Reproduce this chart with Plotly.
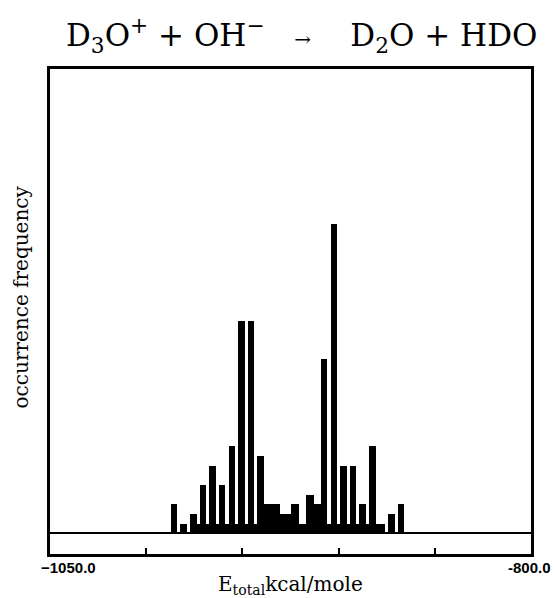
import plotly.graph_objects as go

# ---- data ----
# main histogram bars: bin centre (kcal/mole) and occurrence count
main_energy = [-985.5, -980.5, -975.5, -970.5, -965.5, -960.5, -955.5, -950.5, -945.5, -940.5,
               -907.5, -902.5, -897.5, -892.5, -887.5, -882.5, -877.5, -872.5, -867.5]
main_count = [3, 1, 2, 5, 7, 5, 9, 22, 22, 8,
              18, 32, 7, 7, 3, 9, 1, 2, 3]

# low, densely packed bars between / under the main bars
fill_energy = [-973.0, -968.0, -963.0, -958.0, -953.0, -948.0, -943.0,
               -936.7, -932.8, -929.5, -925.7, -922.7, -918.75, -914.85, -911.5,
               -905.0, -900.0, -895.0, -890.0, -885.0, -880.0]
fill_count = [1, 1, 1, 1, 1, 1, 1,
              3, 3, 2, 2, 3, 1, 4, 3,
              1, 1, 1, 1, 1, 1]

x_range = [-1050.0, -800.0]
inner_ticks = [-1000, -950, -900, -850]
end_tick_labels = ["\u22121050.0", "-800.0"]

title_text = ("D<sub>3</sub>O<sup>+</sup>\u00a0+\u00a0OH<sup>\u2212</sup>"
              "\u00a0\u00a0\u00a0<span style='font-size:20px'>\u2192</span>\u00a0\u00a0\u00a0\u00a0"
              "D<sub>2</sub>O\u00a0+\u00a0HDO")
x_title = "E<sub>total</sub>kcal/mole"
y_title = "occurrence frequency"

fig = go.Figure()
fig.add_trace(go.Bar(x=fill_energy, y=fill_count, width=4.2,
                     marker=dict(color="black", line=dict(width=0)),
                     showlegend=False))
fig.add_trace(go.Bar(x=main_energy, y=main_count, width=3.4,
                     marker=dict(color="black", line=dict(width=0)),
                     showlegend=False))

serif = "DejaVu Serif"
fig.update_layout(
    width=555, height=598,
    margin=dict(l=50, r=24, t=69, b=44),
    paper_bgcolor="white", plot_bgcolor="white",
    barmode="overlay", bargap=0,
    xaxis=dict(range=x_range, showgrid=False, zeroline=False,
               showline=True, mirror=True, linewidth=3, linecolor="black",
               ticks="inside", tickvals=inner_ticks, ticklen=6, tickwidth=1.5,
               tickcolor="black", showticklabels=False),
    yaxis=dict(range=[-2.14, 48.06], showgrid=False,
               zeroline=True, zerolinecolor="black", zerolinewidth=1.5,
               showline=True, mirror=True, linewidth=3, linecolor="black",
               ticks="", showticklabels=False),
    annotations=[
        dict(text=title_text, xref="paper", yref="paper", x=0.523, y=1,
             xanchor="center", yanchor="middle", yshift=34, showarrow=False,
             font=dict(family=serif, size=31, color="black")),
        dict(text="<b>%s</b>" % end_tick_labels[0], xref="x", yref="paper",
             x=x_range[0], y=0, xanchor="left", yanchor="middle",
             xshift=-11, yshift=-13, showarrow=False,
             font=dict(family="Liberation Sans", size=15, color="black")),
        dict(text="<b>%s</b>" % end_tick_labels[1], xref="x", yref="paper",
             x=x_range[1], y=0, xanchor="right", yanchor="middle",
             xshift=22, yshift=-13, showarrow=False,
             font=dict(family="Liberation Sans", size=15, color="black")),
        dict(text=x_title, xref="paper", yref="paper", x=0.5, y=0,
             xanchor="center", yanchor="top", yshift=-16, showarrow=False,
             font=dict(family=serif, size=20, color="black")),
        dict(text=y_title, xref="paper", yref="paper", x=0, y=0.529,
             xanchor="center", yanchor="middle", xshift=-29, textangle=-90,
             showarrow=False,
             font=dict(family=serif, size=20, color="black")),
    ],
)

fig.write_html("out.html")
